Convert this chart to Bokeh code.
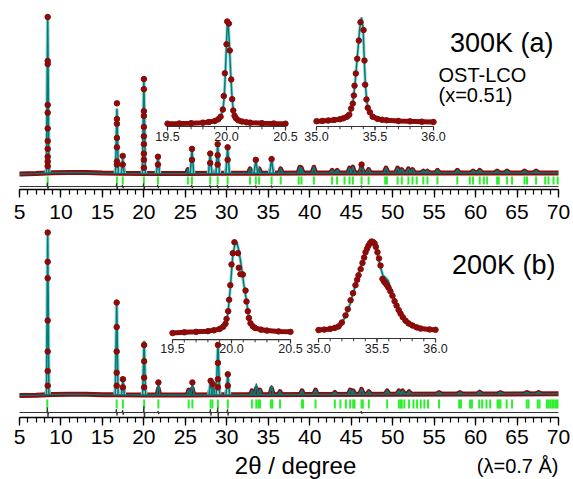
import numpy as np
from bokeh.plotting import figure
from bokeh.layouts import column
from bokeh.models import Range1d, SingleIntervalTicker, Label
from bokeh.embed import file_html
from bokeh.resources import INLINE
from bokeh.core.properties import value

FONT = "Liberation Sans"
RED = "#8b0a0a"
TEAL = "#007c7c"
HALO = "#9fd6d6"
GREEN = "#2bf02b"

# ---------------- 300 K (a) main pattern ----------------
t_bg_x = [5, 7, 9, 11, 13, 15, 17, 20, 25, 30, 40, 50, 60, 70]
t_bg_y = [0.0, 0.3, 0.8, 1.0, 0.9, 0.6, 0.4, 0.3, 0.3, 0.4, 0.6, 0.7, 0.7, 0.7]
t_pk_x = [8.4, 16.75, 17.45, 20.0, 21.7, 25.3, 25.8, 28.0, 28.9, 30.1, 32.8, 33.5, 33.9, 35.4, 36.5,
          38.8, 39.0, 40.5, 42.7, 43.3, 44.8, 45.2, 46.25, 47.1, 49.2, 50.6, 51.1, 51.9, 52.4, 53.7,
          54.2, 55.4, 57.8, 59.7, 60.5, 62.6, 63.8, 65.9, 67.3]
t_pk_h = [100, 41, 9.5, 59, 11, 3, 16, 13, 19, 17, 3.5, 9, 3.5, 9.5, 3.5,
          4.5, 4, 4.5, 2.5, 2.5, 4, 4.5, 6.5, 3, 4, 4, 3, 3.5, 3, 2,
          2, 2.5, 2.5, 2, 2.5, 2, 2, 2, 2]
t_dot_x = ([8.4] * 11 + [16.75] * 7 + [17.45] * 2 + [20.0] * 10 + [21.7] * 2 + [25.8] * 2
           + [28.0] * 2 + [28.9] * 3 + [30.1] * 2 + [33.5, 35.4, 46.25])
t_dot_y = [100, 72, 70, 44, 39, 29, 21, 16, 11, 8, 5,
           45, 35, 32, 23, 17, 8, 6,
           11.5, 6,
           60.5, 54, 40, 37, 30, 24, 19, 13, 9, 4,
           11, 6, 16, 9, 13, 7, 19, 12, 6, 17, 9, 9, 9.5, 6]
t_refl = [8.4, 16.75, 17.45, 20.0, 21.7, 25.3, 25.8, 28.0, 28.9, 30.1, 32.8, 33.5, 33.9, 35.4, 36.5,
          38.67, 39.0, 40.5, 42.7, 43.3, 44.2, 44.8, 45.2, 46.25, 47.1, 49.1, 49.3, 50.6, 51.1, 51.9,
          52.4, 52.9, 53.7, 54.2, 55.4, 57.8, 59.3, 59.7, 60.5, 61.0, 61.4, 62.6, 62.8, 63.8, 64.4,
          65.9, 66.2, 67.3, 68.4, 68.8, 69.4, 69.9]
t_dif_x = [8.4, 16.75, 17.45, 20.0, 21.7, 25.8, 28.0, 28.9, 30.1, 33.5, 35.4, 46.25]
t_dif_up = [2.5, 2, 1, 2, 1, 1, 1, 1, 1, 0.7, 0.7, 0.6]
t_dif_dn = [2, 2, 1, 2, 1, 1, 1, 1, 1, 0.7, 0.7, 0.6]

# 300 K inset around 20 deg
i1_ox = [19.50, 19.60, 19.70, 19.80, 19.85, 19.90, 19.93, 19.95, 19.969, 19.977, 19.986, 20.000, 20.006,
         20.020, 20.028, 20.040, 20.048, 20.057, 20.068, 20.08, 20.10, 20.13, 20.17, 20.20, 20.30, 20.40, 20.50]
i1_oy = [0.3, 0.5, 0.8, 1.3, 1.9, 2.8, 4.5, 7, 14, 27, 49, 77, 99,
         97, 71, 43, 24, 13, 8, 5.5, 3.5, 2.4, 1.6, 1.3, 0.8, 0.5, 0.3]
i1_cx = [19.5, 19.7, 19.8, 19.88, 19.92, 19.95, 19.97, 19.98, 19.99, 20.0, 20.008, 20.015, 20.025,
         20.035, 20.045, 20.055, 20.065, 20.08, 20.1, 20.14, 20.2, 20.3, 20.5]
i1_cy = [0.3, 0.8, 1.3, 2.4, 4, 7, 14, 25, 48, 78, 100, 96, 76, 50, 29, 16, 9.5, 5.5, 3.5, 2.2, 1.3, 0.8, 0.3]
# 300 K inset around 35.4 deg
i2_ox = [35.0, 35.05, 35.1, 35.15, 35.2, 35.23, 35.26, 35.28, 35.296, 35.31, 35.319, 35.325, 35.336, 35.348,
         35.362, 35.376, 35.402, 35.41, 35.416, 35.427, 35.438, 35.456, 35.48, 35.52, 35.56, 35.6, 35.7,
         35.8, 35.9, 36.0]
i2_oy = [1.2, 1.5, 1.9, 2.4, 3.1, 4.0, 5.5, 7.5, 13.3, 18, 25.7, 35, 46.7, 60.7,
         78, 95.5, 88, 59, 36, 22, 14, 9.8, 5.5, 3.5, 2.6, 2.1, 1.5, 1.1, 0.8, 0.5]
i2_cx = [35.0, 35.1, 35.2, 35.26, 35.29, 35.31, 35.33, 35.35, 35.37, 35.385, 35.398, 35.408, 35.418,
         35.43, 35.445, 35.47, 35.52, 35.6, 35.8, 36.0]
i2_cy = [1.2, 1.9, 3.1, 5.5, 10, 18, 38, 64, 90, 100, 90, 60, 36, 20, 12, 6.5, 3.5, 2.1, 1.1, 0.5]

# ---------------- 200 K (b) main pattern ----------------
b_bg_x = [5, 7, 9, 11, 13, 15, 17, 20, 25, 30, 40, 50, 60, 70]
b_bg_y = [0.0, 0.2, 0.6, 0.8, 0.7, 0.5, 0.4, 0.3, 0.3, 0.4, 0.6, 0.8, 0.9, 1.0]
b_pk_x = [8.4, 16.72, 17.47, 20.03, 21.75, 25.4, 25.85, 28.05, 28.3, 28.93, 30.12, 33.03, 33.56, 34.0,
          35.4, 36.42, 39.07, 40.7, 43.03, 44.88, 45.24, 46.25, 47.13, 49.34, 50.75, 51.2, 51.98, 55.6,
          58.1, 60.5, 63.0, 66.2, 67.6]
b_pk_h = [100, 58, 9, 33, 8, 3.5, 8, 9, 7, 32, 13, 3, 7, 3.5,
          6, 2.5, 3, 3.5, 2, 3.5, 3, 4, 2.5, 3, 3, 3, 2.5, 2,
          2, 2.2, 2, 2, 2]
b_dot_x = ([8.4] * 7 + [16.72] * 5 + [17.47] * 2 + [20.03] * 4 + [21.75, 25.85, 28.05, 28.3]
           + [28.93] * 4 + [30.12] * 2)
b_dot_y = [100, 82, 72, 46, 27, 15, 6, 57, 42, 27, 14, 6, 10, 5, 31, 21, 11, 5,
           8, 8, 9, 7, 31, 20, 10, 5, 13, 6]
b_refl = [8.35, 16.72, 17.47, 20.03, 21.75, 25.4, 25.85, 28.05, 28.27, 28.93, 30.12, 33.03, 33.56, 33.8,
          34.0, 35.32, 35.5, 36.42, 39.07, 39.2, 40.7, 43.03, 43.7, 44.36, 44.88, 45.24, 45.4, 46.25,
          46.4, 47.13, 49.34, 50.75, 50.97, 51.1, 51.41, 51.98, 52.51, 52.95, 53.39, 53.83, 54.27, 55.6,
          58.02, 58.24, 59.34, 59.56, 60.44, 60.8, 61.32, 61.76, 62.65, 62.8, 63.0, 63.75, 64.4, 66.17,
          66.39, 67.49, 67.71, 68.6, 68.82, 69.04, 69.26, 69.44, 69.7, 69.88]
b_dif_x = [8.4, 16.72, 17.47, 20.03, 21.75, 28.05, 28.93, 30.12, 46.25]
b_dif_up = [3, 2, 1.5, 4, 1, 2, 3, 2, 0.8]
b_dif_dn = [3, 2, 1.5, 4, 1, 2, 3, 2, 0.8]

# 200 K inset around 20 deg
i3_ox = [19.5, 19.6, 19.7, 19.8, 19.85, 19.9, 19.93, 19.949, 19.958, 19.972, 19.98, 19.99, 20.0, 20.011,
         20.025, 20.055, 20.062, 20.076, 20.096, 20.119, 20.127, 20.138, 20.147, 20.161, 20.18, 20.2,
         20.25, 20.3, 20.4, 20.5]
i3_oy = [0.5, 1.3, 1.8, 2.6, 3.5, 5, 7.5, 10.6, 16, 24.4, 37, 53, 75.6, 88,
         100, 88, 72, 65, 64.6, 47, 35, 24.4, 17, 11.3, 8, 6, 4.2, 3.2, 2.3, 1.8]
i3_cx = [19.5, 19.7, 19.8, 19.88, 19.92, 19.95, 19.97, 19.99, 20.01, 20.03, 20.045, 20.06, 20.076,
         20.09, 20.104, 20.127, 20.147, 20.17, 20.2, 20.3, 20.5]
i3_cy = [0.5, 1.8, 2.6, 4.2, 6.5, 11, 22, 50, 84, 99, 100, 92, 80, 68, 54, 36, 17, 9, 6, 3.2, 1.8]
# 200 K inset around 35.5 deg
i4_ox = [35.0, 35.05, 35.1, 35.14, 35.171, 35.2, 35.231, 35.25, 35.274, 35.295, 35.316, 35.33, 35.342,
         35.36, 35.376, 35.39, 35.402, 35.415, 35.427, 35.44, 35.453, 35.466, 35.479, 35.49, 35.504,
         35.517, 35.530, 35.547, 35.56, 35.573, 35.585, 35.598, 35.615, 35.632, 35.65, 35.667, 35.685,
         35.701, 35.72, 35.744, 35.77, 35.803, 35.84, 35.872, 35.95, 36.0]
i4_oy = [0.5, 1, 1.8, 3, 4.5, 9, 17, 24, 34, 42, 51, 57, 62, 69, 76, 82, 88, 92, 95.5, 98, 100, 99.5,
         98, 94, 88, 81, 73, 58, 55, 53, 51, 48, 44, 39, 33, 28, 23, 19, 15, 11, 8, 5.6, 3.5, 2.2, 1.2, 0.8]
i4_cx = [35.0, 35.1, 35.17, 35.23, 35.27, 35.32, 35.37, 35.41, 35.445, 35.47, 35.5, 35.525, 35.55, 35.575,
         35.595, 35.63, 35.67, 35.7, 35.75, 35.8, 35.87, 36.0]
i4_cy = [0.5, 1.8, 4.5, 15, 30, 53, 76, 93, 101, 99, 88, 73, 62, 59, 56, 42, 28, 19, 11, 6, 2.5, 0.8]

lbl20_v = [19.5, 20.0, 20.5]
lbl20_t = ["19.5", "20.0", "20.5"]
lbl35_v = [35.0, 35.5, 36.0]
lbl35_t = ["35.0", "35.5", "36.0"]

X0, X1 = 2.709, 71.81
W = 573


def main_panel(height, border_bottom, yr, bg_x, bg_y, pk_x, pk_h, dot_x, dot_y,
               refl, ry0, ry1, dif_x, dif_up, dif_dn, dif_base, standoff):
    p = figure(width=W, height=height, x_range=Range1d(X0, X1), y_range=Range1d(*yr),
               output_backend="svg", toolbar_location=None, y_axis_location=None, title=None,
               min_border_left=0, min_border_right=0, min_border_top=0,
               min_border_bottom=border_bottom)
    p.outline_line_color = None
    p.grid.visible = False
    ax = p.xaxis[0]
    ax.ticker = SingleIntervalTicker(interval=5, num_minor_ticks=5)
    ax.bounds = (5, 70)
    ax.axis_line_width = 1.5
    ax.axis_line_color = "black"
    ax.major_tick_line_color = "black"
    ax.minor_tick_line_color = "black"
    ax.major_tick_line_width = 1.3
    ax.minor_tick_line_width = 1.2
    ax.major_tick_in = 0
    ax.major_tick_out = 8
    ax.minor_tick_in = 0
    ax.minor_tick_out = 5
    ax.major_label_text_font = FONT
    ax.major_label_text_font_size = "21px"
    ax.major_label_text_color = "black"
    ax.major_label_standoff = standoff

    base = np.interp(pk_x, bg_x, bg_y)
    w = 0.12 + 0.003 * np.array(pk_x)
    xs = [[x - ww, x, x + ww] for x, ww in zip(pk_x, w)]
    ys = [[b, h, b] for b, h in zip(base, pk_h)]
    ys_band = [[b, min(h, 4.5), b] for b, h in zip(base, pk_h)]
    tall = [i for i, h in enumerate(pk_h) if h > 8]

    n = len(refl)
    p.segment(x0=refl, y0=[ry0] * n, x1=refl, y1=[ry1] * n, line_color=GREEN, line_width=2)
    dx, dy = [5.0], [dif_base]
    for x, u, d in sorted(zip(dif_x, dif_up, dif_dn)):
        dx += [x - 0.1, x - 0.03, x + 0.03, x + 0.1]
        dy += [dif_base, dif_base + u, dif_base - d, dif_base]
    dx.append(70.0)
    dy.append(dif_base)
    p.line(dx, dy, line_color="#333333", line_width=1.1)
    p.line(bg_x, bg_y, line_color=RED, line_width=5)
    p.multi_line(xs, ys_band, line_color=RED, line_width=4.5, line_join="round")
    p.multi_line([xs[i] for i in tall], [ys[i] for i in tall], line_color=HALO, line_width=3.6,
                 line_join="round")
    p.line(bg_x, bg_y, line_color=TEAL, line_width=1.3)
    p.multi_line(xs, ys, line_color=TEAL, line_width=1.6, line_join="round")
    p.scatter(dot_x, dot_y, size=5.5, color=RED)
    return p


def inset(p, lo, hi, tx, ty, ppu, axis_y, label_y, ox, oy, cx, cy, cap, lv, lt):
    sub = p.subplot(x_source=Range1d(lo, hi), y_source=Range1d(0, 100),
                    x_target=Range1d(*tx), y_target=Range1d(*ty))
    oyv = np.array(oy, dtype=float)
    band = np.where(oyv <= cap, oyv, np.nan)
    sub.line(cx, cy, line_color=HALO, line_width=3.2)
    sub.line(cx, cy, line_color=TEAL, line_width=1.5)
    sub.line(ox, band, line_color=RED, line_width=5)
    sub.scatter(ox, oy, size=5.5, color=RED)
    sub.segment(x0=[lo], y0=[axis_y], x1=[hi], y1=[axis_y], line_color="#333333", line_width=1.2)
    minor = [round(lo + 0.1 * k, 2) for k in range(11)]
    sub.segment(x0=minor, y0=[axis_y] * 11, x1=minor, y1=[axis_y - 2.8 / ppu] * 11,
                line_color="#333333", line_width=1)
    sub.segment(x0=lv, y0=[axis_y] * 3, x1=lv, y1=[axis_y - 4.0 / ppu] * 3,
                line_color="#333333", line_width=1.2)
    sub.text(x=lv, y=[label_y] * 3, text=lt, text_font=value(FONT), text_font_size="12.5px",
             text_align="center", text_baseline="middle", text_color="#222222")


def label(p, x, y, text, size, align):
    p.add_layout(Label(x=x, y=y, text=text, text_font=FONT, text_font_size=size,
                       text_align=align, text_baseline="middle", text_color="black"))


# ---- top panel (page rows 0..226) ----
top = main_panel(226, 37, (-9.87, 110.5), t_bg_x, t_bg_y, t_pk_x, t_pk_h, t_dot_x, t_dot_y,
                 t_refl, -1.6, -6.7, t_dif_x, t_dif_up, t_dif_dn, -8.0, 7)
inset(top, 19.5, 20.5, (22.849, 37.079), (31.85, 97.77), 1.035, -2.4, -12.1,
      i1_ox, i1_oy, i1_cx, i1_cy, 8, lbl20_v, lbl20_t)
inset(top, 35.0, 36.0, (40.818, 54.928), (32.8, 99.68), 1.05, -3.8, -13.3,
      i2_ox, i2_oy, i2_cx, i2_cy, 8, lbl35_v, lbl35_t)
label(top, 69.40, 83.4, "300K (a)", "27px", "right")
label(top, 55.53, 63.1, "OST-LCO", "20px", "left")
label(top, 55.53, 50.0, "(x=0.51)", "20px", "left")

# ---- bottom panel (page rows 226..452) ----
bot = main_panel(226, 35, (-13.5, 103.7), b_bg_x, b_bg_y, b_pk_x, b_pk_h, b_dot_x, b_dot_y,
                 b_refl, -2.45, -8.0, b_dif_x, b_dif_up, b_dif_dn, -10.4, 4)
inset(bot, 19.5, 20.5, (23.451, 37.682), (38.04, 94.05), 0.913, -6.6, -16.4,
      i3_ox, i3_oy, i3_cx, i3_cy, 9, lbl20_v, lbl20_t)
inset(bot, 35.0, 36.0, (41.059, 55.169), (39.88, 94.48), 0.89, -9.0, -20.2,
      i4_ox, i4_oy, i4_cx, i4_cy, 15, lbl35_v, lbl35_t)
label(bot, 69.64, 79.8, "200K (b)", "27px", "right")

# ---- axis title strip (page rows 452..479) ----
txt = figure(width=W, height=27, x_range=Range1d(X0, X1), y_range=Range1d(0, 27),
             output_backend="svg", toolbar_location=None, x_axis_location=None, y_axis_location=None,
             title=None, min_border=0)
txt.outline_line_color = None
txt.grid.visible = False
txt.text(x=[38.29], y=[14.5], text=["2θ / degree"], text_font=value(FONT), text_font_size="24px",
         text_align="center", text_baseline="middle", text_color="black")
txt.text(x=[70.0], y=[14.0], text=["(λ=0.7 Å)"], text_font=value(FONT), text_font_size="20px",
         text_align="right", text_baseline="middle", text_color="black")

layout = column(top, bot, txt, spacing=0)
open("out.html", "w").write(file_html(layout, INLINE))
